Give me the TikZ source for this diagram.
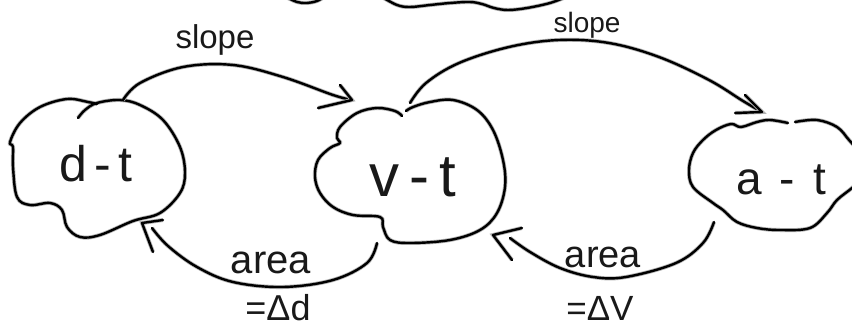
\documentclass[tikz,border=0pt]{standalone}
\usepackage{fontspec}
\setmainfont{Liberation Sans}
\begin{document}
\begin{tikzpicture}[x=1pt,y=-1pt,
  ink/.style={line width=2.4pt, line cap=round, line join=round, black,
    preaction={draw=black!30, line width=4pt}},
  lbl/.style={anchor=base, inner sep=0pt, text=black!90},
  bloblbl/.style={lbl},
]
\useasboundingbox (0,0) rectangle (852,329);
\clip (0,0) rectangle (852,329);

% partial blobs at top edge
\draw[ink] plot[smooth, tension=0.6] coordinates {(286,-3) (297,2) (307,3) (317,1) (324,-3)};
\draw[ink] plot[smooth, tension=0.6] coordinates {(382,-3) (397,5) (410,7) (430,5) (450,3) (470,2) (482,4) (494,8) (508,10) (527,8) (550,3) (566,-3)};

% blob d-t
\draw[ink] plot[smooth, tension=0.6] coordinates {(78,118) (85,110) (97,103) (120,100) (140,105) (163,120) (180,147) (185,173) (180,193) (160,213) (133,221) (100,235) (80,237) (67,227) (62,210) (50,203) (30,205) (17,197) (13,167) (13,147) (10,142) (20,123) (40,107) (67,99) (88,102) (97,104)};
\node[bloblbl, font=\fontsize{50}{50}\selectfont] (dt) at (96,181) {d\hspace{7pt}-\hspace{7pt}t};

% blob v-t
\draw[ink] plot[smooth, tension=0.6] coordinates {(406,111) (413,107) (430,102) (453,100) (477,110) (493,130) (503,160) (505,187) (497,213) (480,230) (450,240) (410,243) (390,240) (383,227) (380,217) (353,215) (333,207) (320,193) (315,177) (318,160) (330,148) (340,143) (337,138) (340,127) (357,113) (377,108) (395,111) (402,116)};
\node[bloblbl, font=\fontsize{60}{60}\selectfont] (vt) at (413,196) {v\hspace{10pt}-\hspace{10pt}t};

% blob a-t
\draw[ink] plot[smooth, tension=0.6] coordinates {(788,123) (770,120) (757,122) (741,127) (731,124) (716,130) (703,140) (693,153) (689,170) (693,187) (713,203) (723,210) (737,222) (757,228) (780,230) (810,228) (827,213) (837,200) (852,188) (860,180)};
\draw[ink] plot[smooth, tension=0.6] coordinates {(795,122) (817,120) (837,127) (849,140) (858,150)};
\node[bloblbl, font=\fontsize{46}{46}\selectfont] (at) at (781,194) {a\hspace{18pt}-\hspace{18pt}t};

% connector endpoints
\coordinate (s1a) at (123,100);
\coordinate (s1b) at (352,100);
\coordinate (s2a) at (410,103);
\coordinate (s2b) at (762,112);
\coordinate (a1a) at (377,243);
\coordinate (a1b) at (152,228);
\coordinate (a1t) at (142,223);
\coordinate (a2a) at (714,222);
\coordinate (a2b) at (510,238);
\coordinate (a2t) at (493,235);

% slope 1
\draw[ink] plot[smooth, tension=0.6] coordinates {(s1a) (140,83) (183,67) (233,65) (283,77) (333,95) (s1b)};
\draw[ink] (340,85) -- (s1b) -- (318,108);
\node[lbl, font=\fontsize{33}{33}\selectfont] (sl1) at (215,49) {slope};

% slope 2
\draw[ink] plot[smooth, tension=0.6] coordinates {(s2a) (426,83) (459,63) (509,47) (559,40) (609,43) (659,57) (709,80) (743,101) (s2b)};
\draw[ink] (745,95) -- (s2b) -- (735,113);
\node[lbl, font=\fontsize{28}{28}\selectfont] (sl2) at (587,33) {slope};

% area 1
\draw[ink] plot[smooth, tension=0.6] coordinates {(a1a) (367,263) (333,280) (283,287) (233,282) (197,267) (168,246) (a1b)};
\draw[ink] (163,220) -- (a1t) -- (153,252);
\node[lbl, font=\fontsize{40}{40}\selectfont] (ar1) at (271,273) {area};
\node[lbl, font=\fontsize{36}{36}\selectfont] (dd) at (278,320) {=Δd};

% area 2
\draw[ink] plot[smooth, tension=0.6] coordinates {(a2a) (703,243) (676,263) (626,277) (593,277) (560,268) (530,252) (a2b)};
\draw[ink] (522,228) -- (a2t) -- (512,260);
\node[lbl, font=\fontsize{38}{38}\selectfont] (ar2) at (603,267) {area};
\node[lbl, font=\fontsize{35}{35}\selectfont] (dv) at (600,320) {=ΔV};
\end{tikzpicture}
\end{document}
